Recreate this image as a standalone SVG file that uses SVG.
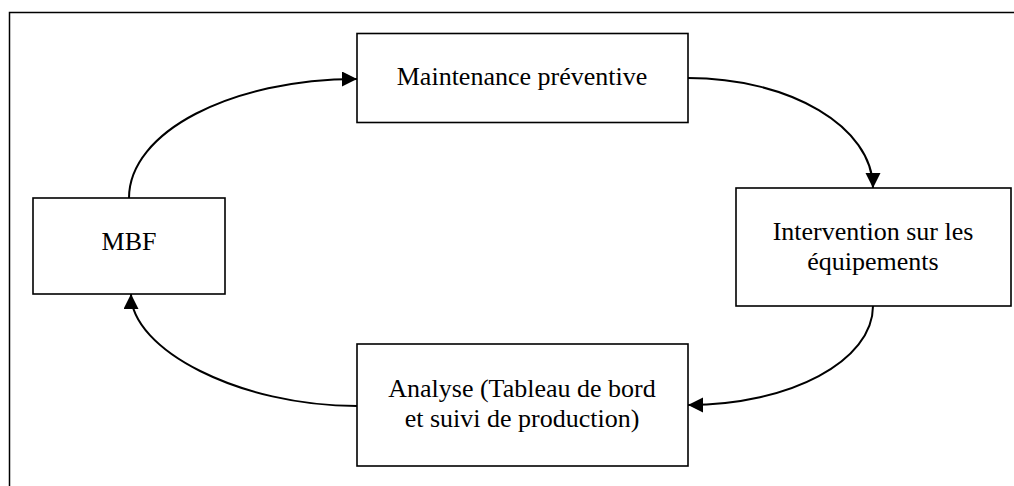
<svg xmlns="http://www.w3.org/2000/svg" width="1014" height="486" viewBox="0 0 1014 486">
  <style>
    .frame { fill: #ffffff; stroke: #000000; stroke-width: 1.5; }
    .box { fill: #ffffff; stroke: #000000; stroke-width: 1.6; }
    .label { font-family: "Liberation Serif", "Times New Roman", serif; font-size: 26px; fill: #000000; text-anchor: middle; }
    .link { fill: none; stroke: #000000; stroke-width: 2; }
  </style>
  <defs>
    <marker id="arrow" markerUnits="userSpaceOnUse" markerWidth="16" markerHeight="16" refX="15" refY="7.5" orient="auto">
      <path d="M0,0 L15,7.5 L0,15 Z" fill="#000000"/>
    </marker>
  </defs>

  <rect width="1014" height="486" fill="#ffffff"/>
  <!-- outer frame, open past the right and bottom edges -->
  <rect class="frame" x="9.5" y="12.5" width="1030" height="500"/>

  <g id="connectors">
    <path class="link" d="M129,198 C129,132 231,79 357,79" marker-end="url(#arrow)"/>
    <path class="link" d="M688,78 C790,78 873,127 873,188" marker-end="url(#arrow)"/>
    <path class="link" d="M873,306 C873,361 790,405 688,405" marker-end="url(#arrow)"/>
    <path class="link" d="M357,406 C240,406 131,350 131,294" marker-end="url(#arrow)"/>
  </g>

  <g id="node-maintenance">
    <rect class="box" x="357" y="33.5" width="331" height="89"/>
    <text class="label" x="522" y="85">Maintenance préventive</text>
  </g>

  <g id="node-intervention">
    <rect class="box" x="736" y="188" width="275" height="118"/>
    <text class="label" x="873" y="240">Intervention sur les</text>
    <text class="label" x="873" y="270">équipements</text>
  </g>

  <g id="node-analyse">
    <rect class="box" x="357" y="344" width="331" height="122"/>
    <text class="label" x="522" y="397">Analyse (Tableau de bord</text>
    <text class="label" x="522" y="427">et suivi de production)</text>
  </g>

  <g id="node-mbf">
    <rect class="box" x="33" y="198" width="192" height="96"/>
    <text class="label" x="129" y="250">MBF</text>
  </g>
</svg>
